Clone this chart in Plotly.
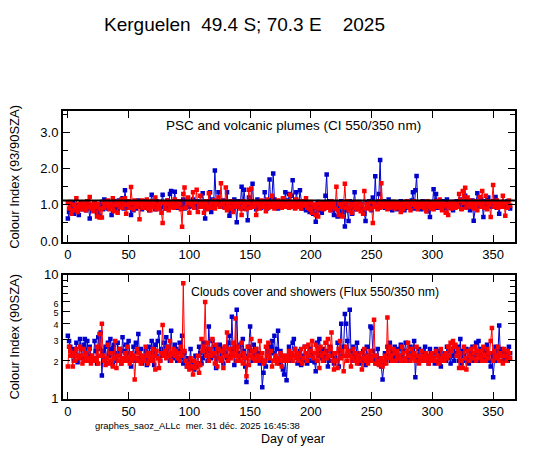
import plotly.graph_objects as go

# day of year
days = list(range(365))

# colour index 93/90 SZA (top panel)
ci_blue = [
    0.62, 0.80, 0.95, 0.78, 1.05, 0.75, 0.90, 1.00, 0.85, 0.72,
    0.95, 1.05, 0.88, 0.92, 1.02, 0.85, 1.10, 0.98, 0.62, 0.90,
    1.00, 0.88, 1.05, 0.92, 0.78, 1.00, 0.70, 0.95, 1.08, 0.88,
    1.15, 0.95, 1.02, 0.90, 1.05, 0.98, 0.72, 1.00, 1.10, 0.92,
    1.05, 0.88, 1.12, 0.95, 1.00, 1.18, 0.90, 1.40, 1.05, 0.92,
    1.10, 0.95, 0.72, 1.02, 0.85, 1.08, 0.90, 1.00, 1.12, 0.95,
    1.02, 0.88, 1.10, 0.92, 1.05, 1.00, 0.95, 0.85, 1.08, 1.28,
    0.98, 1.05, 0.88, 1.10, 0.95, 1.02, 0.90, 1.08, 1.28, 0.95,
    1.05, 0.90, 1.12, 1.00, 1.30, 1.38, 0.95, 1.08, 1.36, 1.00,
    0.92, 1.10, 1.05, 0.95, 1.02, 1.15, 0.90, 1.08, 1.00, 1.12,
    0.95, 1.05, 0.98, 1.15, 1.02, 0.92, 1.10, 1.00, 1.08, 0.95,
    1.05, 1.32, 0.98, 0.62, 1.10, 0.92, 1.05, 1.35, 0.80, 1.15,
    1.00, 1.95, 1.10, 1.02, 1.35, 1.00, 1.08, 0.95, 1.12, 1.02,
    0.95, 1.35, 1.05, 0.70, 0.82, 1.00, 0.90, 1.15, 0.95, 0.52,
    1.10, 0.95, 1.05, 1.50, 0.90, 1.42, 1.05, 0.98, 0.57, 1.20,
    1.00, 1.10, 1.58, 0.95, 1.05, 0.88, 1.15, 0.98, 1.05, 0.92,
    1.10, 0.95, 1.35, 1.02, 0.90, 1.12, 1.70, 1.00, 1.20, 1.87,
    1.15, 0.95, 1.08, 0.90, 1.05, 1.00, 0.92, 1.12, 0.98, 1.35,
    1.05, 1.12, 1.30, 0.95, 1.25, 1.68, 1.02, 0.92, 1.35, 1.10,
    0.95, 1.40, 1.05, 0.90, 1.10, 0.98, 0.85, 1.05, 0.92, 0.80,
    1.02, 0.88, 0.75, 1.00, 0.53, 0.92, 1.08, 0.85, 1.00, 0.78,
    1.05, 0.90, 1.25, 1.84, 0.95, 1.10, 1.00, 0.85, 1.05, 0.72,
    0.90, 1.05, 0.68, 0.95, 0.70, 1.10, 0.80, 0.95, 0.40, 1.00,
    0.85, 0.55, 1.10, 0.92, 0.75, 1.05, 1.35, 0.88, 1.00, 0.95,
    1.08, 0.90, 1.02, 0.85, 0.75, 0.55, 1.05, 0.92, 1.10, 1.00,
    0.85, 1.20, 0.95, 1.79, 1.05, 0.90, 1.30, 2.24, 1.02, 0.95,
    1.10, 0.92, 1.05, 0.98, 1.15, 0.90, 1.02, 0.85, 1.08, 0.95,
    1.00, 0.88, 1.05, 0.92, 1.10, 0.95, 1.02, 0.85, 1.08, 1.00,
    0.92, 1.05, 0.98, 1.12, 1.35, 0.90, 1.40, 1.80, 1.05, 0.95,
    1.00, 0.88, 1.10, 0.95, 1.05, 0.90, 0.82, 1.00, 0.66, 1.08,
    0.95, 1.43, 1.02, 1.30, 0.92, 1.05, 0.95, 1.00, 0.88, 1.10,
    1.05, 0.90, 1.15, 0.98, 1.02, 0.92, 1.08, 0.85, 1.00, 0.95,
    1.10, 0.95, 1.02, 1.15, 0.90, 1.05, 1.00, 1.25, 0.95, 1.10,
    1.05, 0.85, 0.98, 1.12, 0.56, 0.92, 1.08, 1.32, 0.95, 1.05,
    1.15, 1.00, 0.66, 1.10, 0.92, 1.05, 1.20, 0.98, 1.02, 0.95,
    1.10, 1.05, 1.22, 0.92, 0.98, 0.75, 1.05, 0.95, 1.00, 1.08,
    0.95, 1.02, 1.10, 0.98, 0.90,
]
ci_red = [
    1.05, 0.90, 1.08, 0.75, 0.85, 1.00, 0.92, 1.18, 0.80, 0.95,
    1.02, 0.88, 1.05, 0.92, 1.00, 0.85, 1.10, 0.95, 1.22, 0.90,
    1.00, 0.82, 1.05, 0.95, 0.68, 1.02, 0.65, 0.90, 0.65, 1.08,
    0.92, 1.05, 0.98, 1.12, 0.88, 1.02, 0.95, 1.18, 0.82, 1.00,
    1.05, 0.78, 1.10, 0.95, 1.15, 0.92, 1.02, 1.18, 0.75, 1.00,
    1.10, 0.92, 1.49, 1.05, 0.88, 1.12, 1.00, 0.95, 1.08, 0.60,
    1.02, 1.12, 0.92, 1.05, 0.98, 1.15, 0.90, 1.02, 0.85, 1.10,
    0.95, 1.05, 1.20, 0.88, 1.00, 0.92, 1.08, 0.78, 0.50, 1.05,
    0.90, 1.02, 1.12, 0.85, 1.00, 0.95, 1.08, 0.92, 1.15, 1.00,
    0.95, 1.10, 1.02, 0.88, 0.39, 1.30, 1.48, 0.92, 1.05, 1.20,
    0.78, 1.05, 1.00, 1.35, 0.92, 1.08, 1.42, 0.80, 1.02, 1.25,
    0.95, 1.05, 0.78, 1.10, 1.00, 0.88, 1.32, 0.95, 1.05, 0.92,
    1.12, 0.90, 1.05, 1.00, 1.20, 0.95, 1.60, 1.02, 1.08, 0.92,
    1.48, 0.85, 1.05, 0.95, 1.10, 0.90, 0.80, 1.02, 0.95, 1.08,
    0.98, 1.05, 0.90, 0.72, 1.10, 0.95, 1.02, 0.88, 1.05, 1.42,
    0.92, 1.45, 1.00, 0.95, 1.08, 0.72, 1.05, 0.98, 0.90, 1.12,
    1.00, 0.95, 1.08, 0.82, 1.15, 0.92, 1.05, 0.95, 1.25, 1.02,
    0.90, 1.08, 0.95, 1.12, 0.98, 1.05, 0.92, 1.18, 1.00, 0.95,
    1.10, 1.05, 0.92, 1.28, 1.02, 0.95, 1.08, 0.90, 1.15, 1.00,
    0.95, 1.05, 0.90, 1.10, 0.98, 1.02, 1.18, 0.92, 1.05, 0.88,
    1.08, 0.78, 1.00, 0.95, 0.72, 1.02, 0.68, 0.90, 1.05, 0.95,
    0.88, 1.02, 0.95, 1.05, 0.92, 1.00, 0.85, 1.10, 0.95, 1.05,
    0.90, 1.50, 0.85, 0.72, 1.02, 0.95, 0.68, 1.05, 1.58, 0.92,
    1.10, 0.85, 0.95, 1.02, 0.78, 1.00, 0.92, 1.08, 0.88, 0.95,
    1.05, 0.82, 1.00, 0.75, 1.38, 0.90, 1.02, 0.95, 1.08, 0.88,
    0.92, 0.50, 1.05, 0.95, 1.00, 0.88, 1.10, 0.92, 1.60, 1.02,
    0.95, 1.08, 1.00, 0.88, 1.05, 0.92, 1.02, 0.95, 1.08, 0.90,
    1.00, 0.95, 1.05, 0.92, 0.80, 1.02, 0.88, 1.05, 0.95, 1.10,
    1.02, 0.92, 0.85, 1.05, 1.00, 1.10, 0.95, 1.02, 0.88, 1.05,
    0.95, 1.08, 1.00, 0.92, 1.05, 0.82, 1.10, 0.95, 1.02, 0.90,
    1.05, 0.88, 1.00, 1.10, 0.95, 1.02, 1.15, 0.92, 0.85, 1.05,
    0.98, 0.78, 1.02, 0.72, 0.95, 1.05, 0.90, 1.00, 1.08, 0.92,
    1.02, 0.95, 1.30, 1.12, 0.88, 1.38, 1.05, 1.47, 0.92, 1.20,
    1.00, 1.12, 0.95, 1.05, 0.90, 1.10, 0.98, 0.85, 1.05, 1.22,
    0.95, 1.38, 1.05, 0.92, 1.25, 0.88, 1.10, 1.00, 0.66, 1.08,
    1.55, 0.95, 1.05, 1.12, 0.92, 1.02, 1.08, 0.95, 1.25, 1.05,
    0.70, 1.05, 0.92, 1.12, 0.98,
]
ci_ref = 1.12

# flux ratio 550/350 (bottom panel)
flux_blue = [
    3.2, 2.9, 2.6, 2.2, 2.5, 2.0, 2.4, 2.8, 1.95, 2.2,
    3.0, 2.5, 2.1, 2.7, 3.0, 2.3, 2.9, 2.0, 2.6, 2.2,
    2.1, 2.0, 2.9, 2.4, 1.9, 3.1, 2.5, 3.4, 1.52, 2.4,
    2.0, 2.6, 1.9, 2.8, 2.2, 3.0, 2.5, 1.85, 2.7, 2.3,
    2.0, 2.8, 2.2, 2.5, 1.9, 3.1, 2.4, 2.1, 2.7, 2.0,
    2.9, 2.3, 1.8, 2.2, 2.6, 2.0, 2.8, 2.4, 3.3, 2.1,
    2.5, 1.9, 2.2, 2.0, 2.4, 1.85, 2.1, 2.6, 2.0, 2.9,
    2.3, 1.85, 2.7, 2.2, 2.9, 3.4, 2.0, 2.5, 2.2, 2.8,
    2.4, 3.1, 2.2, 2.6, 2.0, 3.5, 2.3, 2.1, 2.7, 2.5,
    2.0, 2.4, 2.8, 2.1, 3.2, 1.9, 2.3, 2.0, 1.8, 2.1,
    1.9, 2.5, 1.75, 2.0, 1.7, 2.2, 1.8, 1.9, 2.6, 2.3,
    1.9, 2.1, 2.8, 2.2, 2.5, 2.0, 3.8, 2.4, 2.1, 2.9,
    2.2, 2.6, 1.75, 2.4, 2.1, 2.7, 2.0, 2.5, 1.9, 2.3,
    2.6, 2.1, 2.8, 3.2, 2.2, 4.55, 2.5, 1.85, 2.6, 5.2,
    2.3, 2.0, 2.7, 2.2, 3.0, 2.4, 1.8, 1.35, 2.2, 2.6,
    3.8, 2.4, 2.0, 2.7, 2.2, 2.5, 2.0, 2.3, 1.9, 2.1,
    1.22, 1.6, 2.0, 1.8, 2.4, 2.2, 2.0, 2.6, 2.9, 2.3,
    3.2, 2.1, 2.5, 3.5, 1.9, 2.4, 2.2, 1.7, 1.55, 2.0,
    1.39, 2.2, 2.6, 2.0, 2.3, 2.8, 3.0, 2.5, 2.2, 1.9,
    2.1, 2.4, 1.85, 2.2, 2.0, 2.6, 2.3, 1.9, 2.0, 2.5,
    2.2, 2.0, 2.3, 1.95, 1.65, 2.8, 2.2, 3.0, 2.4, 2.1,
    2.5, 2.0, 2.2, 2.4, 1.8, 2.0, 2.6, 2.2, 2.3, 1.9,
    2.1, 2.0, 2.8, 1.8, 2.4, 4.0, 2.2, 2.6, 4.8, 4.0,
    2.9, 2.2, 5.2, 2.4, 2.0, 2.6, 2.2, 2.0, 2.8, 2.3,
    1.9, 2.1, 2.0, 2.4, 2.2, 1.85, 2.6, 2.0, 2.2, 3.8,
    3.7, 2.4, 2.0, 2.2, 1.9, 2.5, 2.1, 2.0, 1.8, 1.41,
    1.9, 2.3, 2.0, 2.6, 2.2, 2.8, 2.0, 2.4, 2.1, 2.6,
    2.2, 2.0, 2.5, 2.1, 2.7, 2.2, 2.0, 2.4, 2.8, 2.1,
    2.3, 2.0, 2.6, 2.2, 2.4, 2.9, 1.47, 2.2, 2.0, 2.5,
    2.1, 2.4, 2.0, 2.3, 2.6, 2.0, 2.2, 1.9, 2.5, 2.1,
    2.0, 2.3, 1.9, 2.5, 2.2, 2.0, 2.4, 1.8, 2.2, 2.0,
    2.3, 2.0, 2.6, 2.1, 2.4, 1.9, 2.2, 2.5, 2.0, 2.3,
    2.2, 2.6, 2.0, 3.0, 1.9, 2.4, 2.2, 2.0, 2.5, 2.1,
    1.9, 2.4, 2.2, 2.6, 2.0, 2.3, 2.8, 2.2, 2.9, 2.0,
    2.5, 2.2, 2.0, 2.4, 2.1, 2.7, 2.2, 2.0, 1.8, 2.3,
    1.47, 2.2, 2.6, 2.0, 2.4, 3.86, 2.2, 2.5, 2.0, 2.3,
    2.1, 2.4, 2.0, 2.6, 2.3,
]
flux_red = [
    1.8, 2.6, 2.4, 2.2, 1.8, 2.3, 2.0, 2.5, 2.2, 2.1,
    2.6, 2.2, 1.9, 2.5, 2.0, 2.3, 2.1, 2.0, 2.5, 1.9,
    2.2, 2.0, 2.1, 2.0, 2.6, 1.9, 3.3, 2.2, 4.0, 2.2,
    2.0, 1.85, 2.1, 2.7, 1.9, 2.0, 2.3, 1.8, 2.1, 2.9,
    1.75, 2.2, 2.0, 2.5, 1.9, 2.1, 2.0, 2.3, 2.0, 2.6,
    2.1, 1.9, 2.3, 2.0, 2.2, 1.41, 2.1, 2.5, 2.0, 2.3,
    1.9, 2.2, 2.1, 2.0, 2.6, 2.2, 1.9, 2.3, 2.1, 2.0,
    2.5, 2.2, 1.7, 2.4, 2.1, 1.75, 2.0, 2.3, 3.9, 2.2,
    2.4, 2.1, 2.6, 2.2, 2.9, 2.0, 2.3, 2.5, 2.2, 2.4,
    2.1, 2.3, 2.0, 2.6, 2.2, 8.5, 2.4, 2.0, 1.8, 1.9,
    1.7, 2.1, 1.8, 1.55, 2.0, 1.75, 1.9, 2.2, 1.6, 1.85,
    3.0, 2.4, 2.6, 6.0, 2.2, 2.8, 2.0, 2.5, 2.2, 3.0,
    2.3, 1.9, 2.7, 1.8, 2.5, 2.1, 2.0, 2.4, 1.75, 2.6,
    2.2, 3.4, 2.0, 2.5, 2.1, 2.3, 2.8, 2.2, 4.4, 2.0,
    2.6, 2.2, 2.0, 2.8, 1.9, 2.3, 2.1, 1.5, 2.6, 1.85,
    2.2, 3.0, 2.1, 2.4, 2.0, 2.5, 2.2, 2.0, 2.9, 2.1,
    2.3, 1.9, 2.0, 2.6, 2.2, 2.8, 2.1, 2.4, 1.8, 2.0,
    2.0, 2.2, 1.9, 2.1, 2.0, 2.3, 1.8, 2.2, 2.0, 2.1,
    2.2, 2.0, 2.4, 2.1, 2.3, 2.0, 2.2, 2.5, 2.1, 2.3,
    2.0, 2.2, 2.5, 1.9, 2.1, 2.6, 2.3, 2.0, 2.7, 2.2,
    2.4, 2.9, 2.1, 2.3, 2.7, 2.0, 2.5, 1.75, 2.6, 2.2,
    2.0, 2.3, 2.8, 2.1, 3.0, 2.2, 2.5, 3.4, 2.0, 1.7,
    2.3, 2.0, 1.75, 2.5, 2.9, 2.1, 2.4, 1.65, 2.2, 2.6,
    2.0, 2.4, 2.2, 1.8, 2.1, 2.5, 2.0, 2.3, 1.9, 2.2,
    2.0, 2.3, 1.7, 2.1, 2.5, 2.0, 2.2, 1.9, 2.1, 2.4,
    2.0, 2.2, 4.3, 1.9, 2.2, 2.0, 1.85, 1.9, 2.1, 1.8,
    2.0, 2.2, 1.9, 4.5, 2.1, 2.6, 2.2, 2.0, 2.5, 2.3,
    2.0, 2.4, 2.1, 2.2, 2.0, 2.6, 2.3, 2.1, 2.0, 2.4,
    2.8, 2.2, 2.0, 2.5, 2.1, 2.3, 2.0, 2.6, 2.2, 1.9,
    2.1, 2.4, 2.0, 2.2, 2.0, 2.3, 2.1, 1.9, 2.2, 2.0,
    2.3, 2.1, 2.0, 2.4, 2.2, 1.9, 2.1, 2.5, 2.0, 2.2,
    2.0, 2.3, 2.1, 2.6, 2.2, 2.8, 2.4, 2.9, 2.6, 2.7,
    2.2, 2.5, 1.75, 2.3, 2.0, 1.75, 2.6, 2.1, 1.7, 2.4,
    2.2, 2.0, 2.5, 2.1, 2.3, 2.6, 2.0, 2.4, 2.2, 2.1,
    2.4, 2.0, 2.6, 2.2, 2.0, 2.5, 2.1, 2.3, 2.9, 3.7,
    2.0, 2.4, 2.2, 2.1, 2.6, 2.0, 2.3, 2.2, 1.9, 2.5,
    2.2, 2.0, 2.4, 2.3, 2.1,
]

x_ticks = [0, 50, 100, 150, 200, 250, 300, 350]
ci_ticks = [0, 1, 2, 3]
ci_labels = ['0.0', '1.0', '2.0', '3.0']
flux_ticks = [1, 2, 3, 4, 5, 6, 10]
flux_labels = ['1', '2', '3', '4', '5', '6', '10']

BLUE = 'rgb(0,0,205)'
RED = 'rgb(255,0,0)'
FONT = 'Liberation Sans, Arial, sans-serif'

# the page body has an 8px margin, so the figure is drawn 8px in
OFF = 8
W, H = 547 - OFF, 455 - OFF


def px_x(px):
    return (px - OFF) / W


def px_y(py):
    return 1 - (py - OFF) / H


def series(x, y, color, xa, ya):
    return go.Scatter(
        x=x, y=y, xaxis=xa, yaxis=ya,
        mode='lines+markers',
        line=dict(color=color, width=1),
        marker=dict(symbol='square', size=4.5, color=color),
        showlegend=False, hoverinfo='skip',
    )


fig = go.Figure()
fig.add_trace(series(days, ci_blue, BLUE, 'x', 'y'))
fig.add_trace(series(days, ci_red, RED, 'x', 'y'))
fig.add_trace(series(days, flux_blue, BLUE, 'x2', 'y2'))
fig.add_trace(series(days, flux_red, RED, 'x2', 'y2'))

# reference line of the colour index
fig.add_shape(type='line', xref='x domain', yref='y', x0=0, x1=1,
              y0=ci_ref, y1=ci_ref, line=dict(color='black', width=2))

xdom = [px_x(63), px_x(515)]

axis_common = dict(
    showgrid=False, zeroline=False, showline=True, linecolor='black',
    linewidth=2, mirror='allticks', ticks='inside', ticklen=7,
    tickwidth=1, tickcolor='black',
    tickfont=dict(family=FONT, size=13, color='black'),
)

# small labels for the inner decades of the log axis
flux_text = [t if t in ('1', '10') else '<span style="font-size:9px">%s</span>' % t
             for t in flux_labels]

fig.update_layout(
    width=W, height=H,
    margin=dict(l=0, r=0, t=0, b=0),
    paper_bgcolor='white', plot_bgcolor='white',
    font=dict(family=FONT, color='black'),
    xaxis=dict(domain=xdom, range=[-4, 368], tickvals=x_ticks,
               anchor='y', **axis_common),
    yaxis=dict(domain=[px_y(242), px_y(107)], range=[-0.02, 3.6],
               tickvals=ci_ticks, ticktext=ci_labels,
               minor=dict(tickvals=[0.5, 1.5, 2.5, 3.5], ticks='inside',
                          ticklen=5, tickcolor='black'),
               anchor='x', **axis_common),
    xaxis2=dict(domain=xdom, range=[-4, 368], tickvals=x_ticks,
                anchor='y2', **axis_common),
    yaxis2=dict(domain=[px_y(404), px_y(276)], type='log',
                range=[-0.005, 1.0], tickvals=flux_ticks,
                ticktext=flux_text,
                minor=dict(tickvals=[7, 8, 9], ticks='inside', ticklen=5,
                           tickcolor='black'),
                anchor='x2', **axis_common),
)


def note(text, px, py, size, anchor='left', angle=0):
    fig.add_annotation(text=text, x=px_x(px), y=px_y(py), xref='paper',
                       yref='paper', xanchor=anchor, yanchor='middle',
                       showarrow=False, textangle=angle, borderpad=0,
                       font=dict(family=FONT, size=size, color='black'))


note('Kerguelen&nbsp; 49.4 S; 70.3 E&nbsp;&nbsp;&nbsp; 2025', 103, 18, 19)
note('PSC and volcanic plumes (CI 550/350 nm)', 165, 122, 13.5)
note('Clouds cover and showers (Flux 550/350 nm)', 190, 294, 12.3)
note('Colour Index (93/90SZA)', 15, 175, 13, 'center', -90)
note('Colour Index (90SZA)', 15, 340, 13, 'center', -90)
note('graphes_saoz_ALLc&nbsp; mer. 31 déc. 2025 16:45:38', 94, 432, 9.4)
note('Day of year', 260, 446, 12.5)

fig.write_html('out.html')
